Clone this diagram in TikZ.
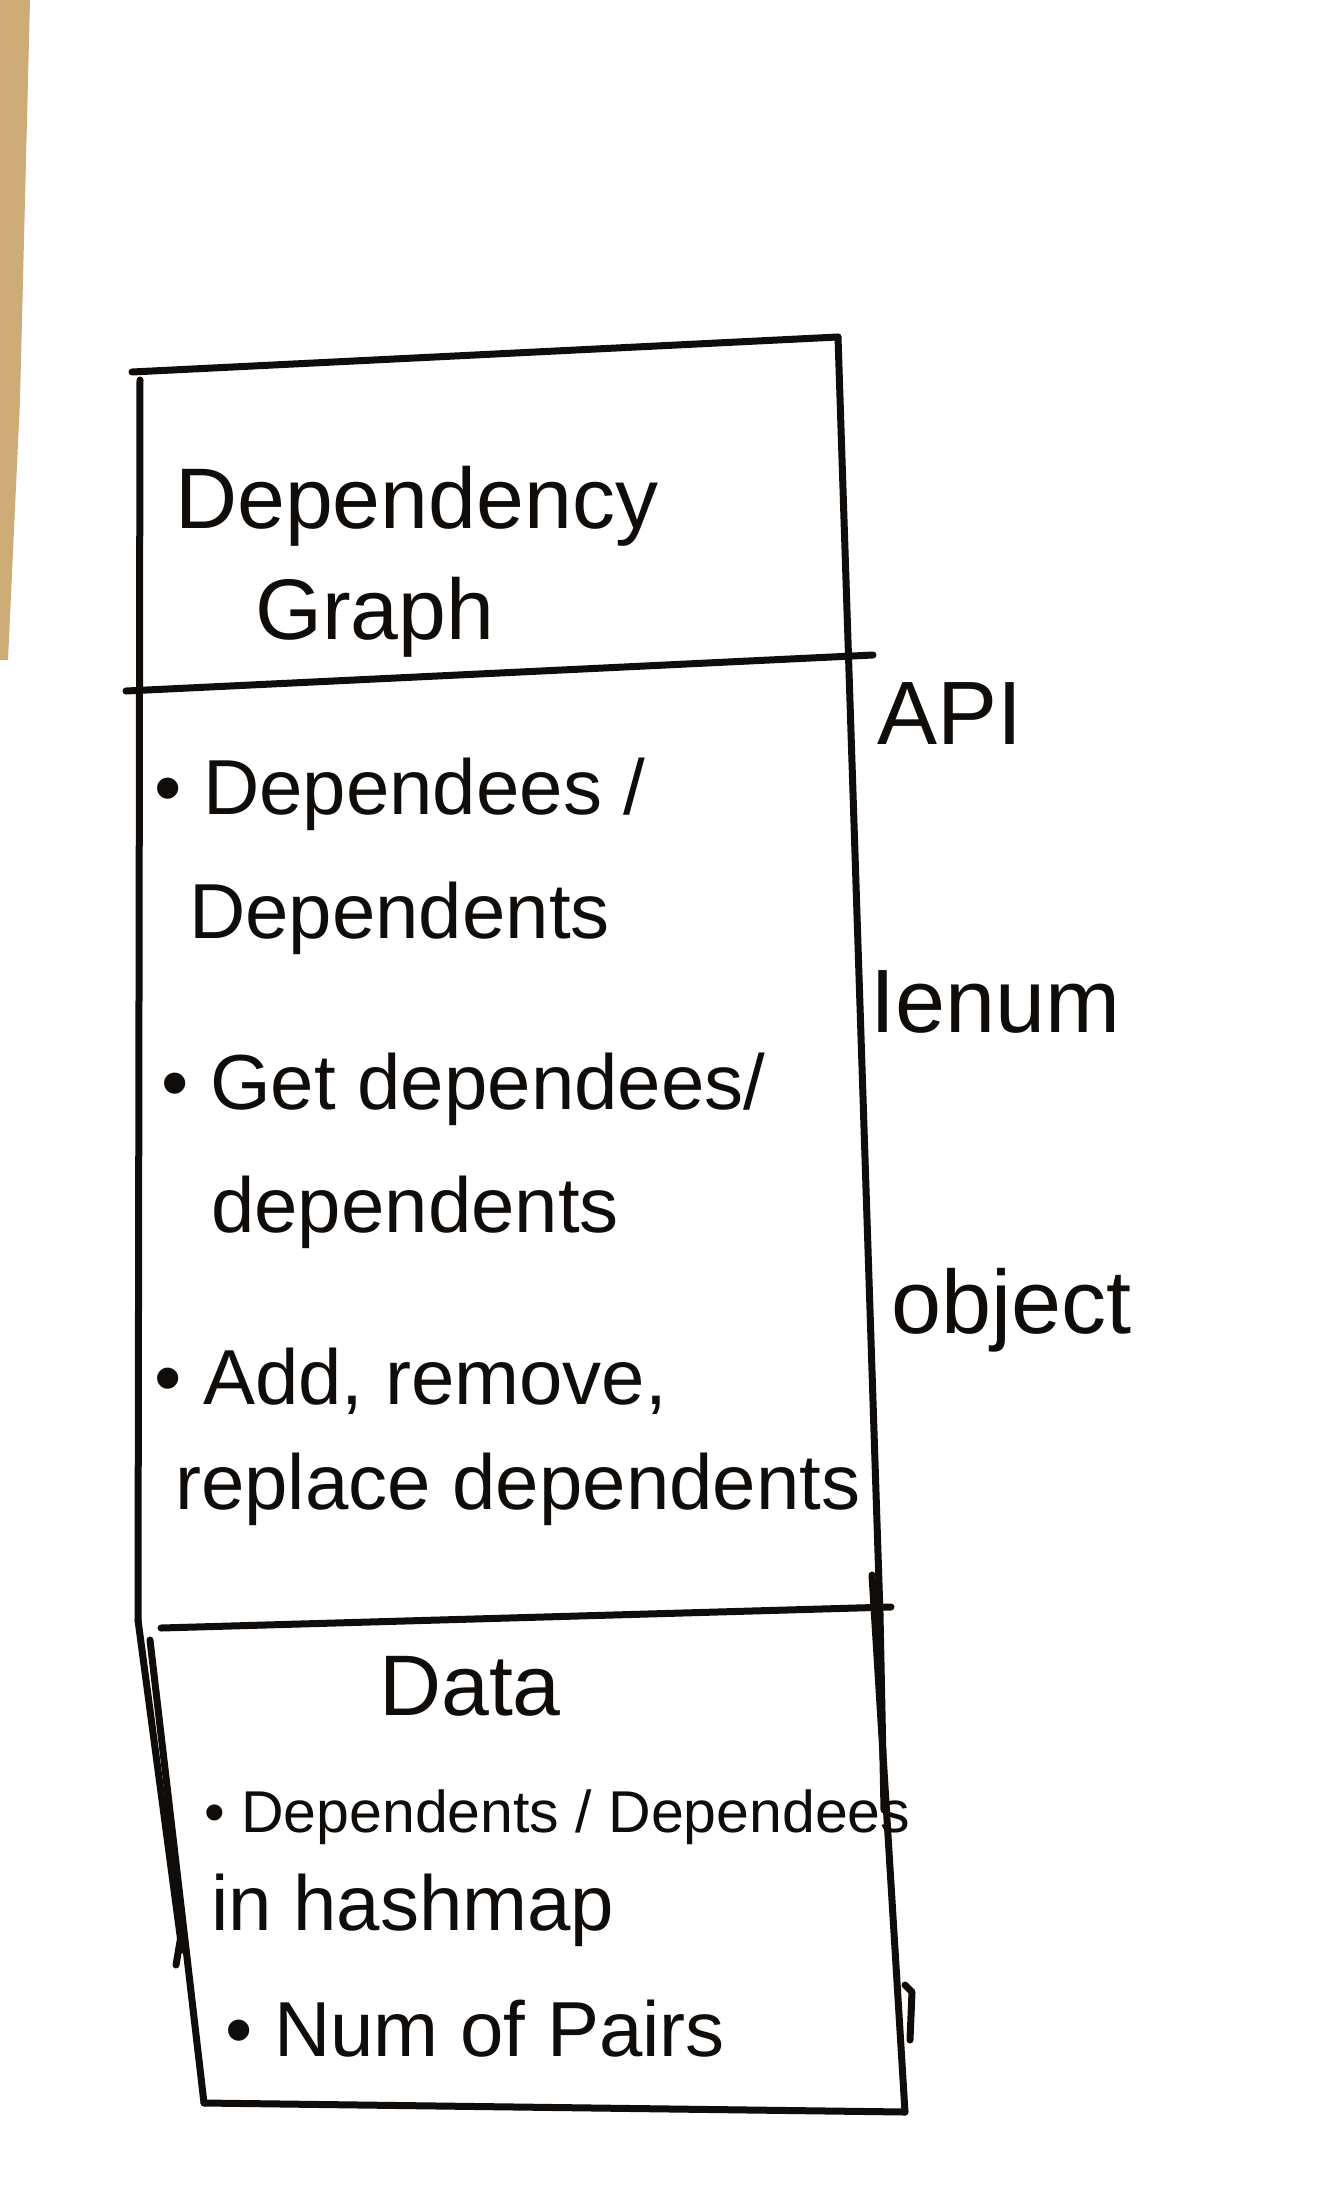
\documentclass[tikz,border=0pt]{standalone}
\usepackage{fontspec}
\setmainfont{Liberation Sans}
\definecolor{tabletan}{RGB}{205,172,120}
\definecolor{ink}{RGB}{15,12,10}
\tikzset{
  pen/.style={draw=ink, line width=7pt, line cap=round, line join=round},
  titletext/.style={anchor=base west, inner sep=0pt, text=ink, font=\fontsize{86}{100}\selectfont},
  bodytext/.style={anchor=base west, inner sep=0pt, text=ink, font=\fontsize{78}{90}\selectfont},
  smalltext/.style={anchor=base west, inner sep=0pt, text=ink, font=\fontsize{59}{70}\selectfont},
  sidetext/.style={anchor=base west, inner sep=0pt, text=ink, font=\fontsize{90}{100}\selectfont}
}
\begin{document}
\begin{tikzpicture}[x=1pt,y=-1pt]
\useasboundingbox (0,0) rectangle (1332,2200);
\fill[white] (0,0) rectangle (1332,2200);
% table edge at the left
\fill[tabletan] (0,0) -- (30,0) -- (20,400) -- (8,660) -- (0,660) -- cycle;

% box corners
\coordinate (tl) at (132,372);
\coordinate (tr) at (838,337);
\coordinate (d1l) at (126,691);
\coordinate (d1r) at (873,655);
\coordinate (d2l) at (161,1628);
\coordinate (d2r) at (891,1607);
\coordinate (ml) at (138,1620);
\coordinate (mr) at (880,1614);
\coordinate (bl) at (204,2103);
\coordinate (br) at (905,2112);

% outer box of class and API
\draw[pen] (tl) -- (tr);
\draw[pen] (140,380) -- (ml);
\draw[pen] (tr) -- (mr);
\draw[pen] (d1l) -- (d1r);
\draw[pen] (d2l) -- (d2r);
% data section
\draw[pen] (ml) -- (182,1950);
\draw[pen] (150,1640) -- (bl);
\draw[pen] (872,1575) -- (br);
\draw[pen] (880,1614) -- (884,1810);
\draw[pen] (bl) -- (br);
\draw[pen] (182,1930) -- (176,1965);
\draw[pen] (905,1985) -- (912,1992) -- (910,2040);

% title
\node[titletext] (t1) at (175,528) {Dependency};
\node[titletext] (t2) at (255,639) {Graph};

% API items
\node[bodytext] (a1) at (154,814) {\textbullet\ Dependees /};
\node[bodytext] (a1b) at (189,938) {Dependents};
\node[bodytext] (a2) at (161,1109) {\textbullet\ Get dependees/};
\node[bodytext] (a2b) at (211,1232) {dependents};
\node[bodytext] (a3) at (154,1404) {\textbullet\ Add, remove,};
\node[bodytext] (a3b) at (175,1509) {replace dependents};

% data items
\node[titletext, anchor=base] (data) at (470,1715) {Data};
\node[smalltext] (d1) at (204,1832) {\textbullet\ Dependents / Dependees};
\node[bodytext] (d1b) at (211,1930) {in hashmap};
\node[bodytext] (d2) at (225,2056) {\textbullet\ Num of Pairs};

% side labels
\node[sidetext] (api) at (877,744) {API};
\node[sidetext] (ienum) at (870,1032) {Ienum};
\node[sidetext] (obj) at (891,1333) {object};
\end{tikzpicture}
\end{document}
